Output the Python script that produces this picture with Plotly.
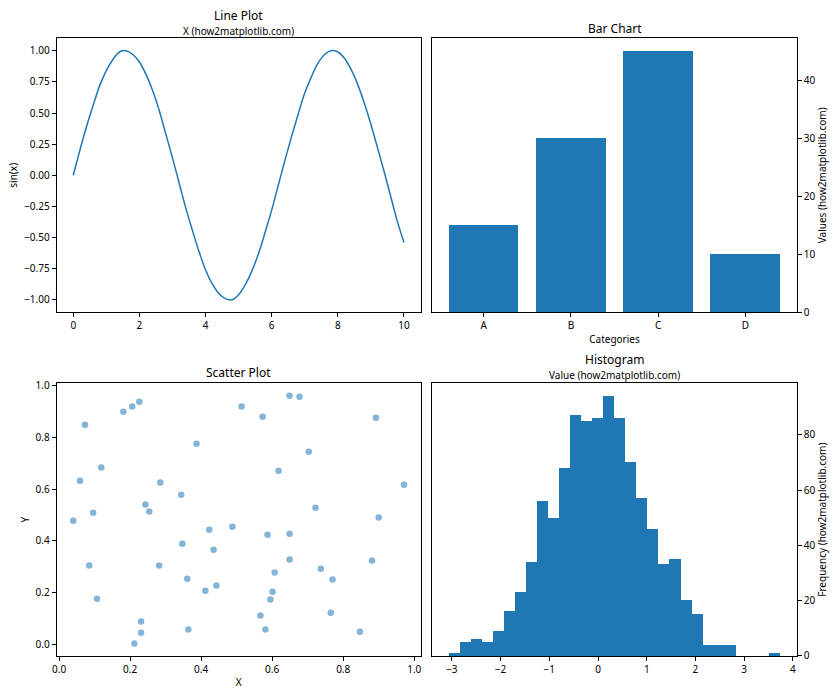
import plotly.graph_objects as go
from plotly.subplots import make_subplots

# line plot samples
line_x = [0.0, 0.2, 0.4, 0.6, 0.8, 1.0, 1.2, 1.4, 1.6, 1.8, 2.0, 2.2, 2.4, 2.6, 2.8, 3.0, 3.2,
          3.4, 3.6, 3.8, 4.0, 4.2, 4.4, 4.6, 4.8, 5.0, 5.2, 5.4, 5.6, 5.8, 6.0, 6.2, 6.4, 6.6,
          6.8, 7.0, 7.2, 7.4, 7.6, 7.8, 8.0, 8.2, 8.4, 8.6, 8.8, 9.0, 9.2, 9.4, 9.6, 9.8, 10.0]
line_y = [0.00, 0.20, 0.39, 0.56, 0.72, 0.84, 0.93, 0.99, 1.00, 0.97, 0.91, 0.81, 0.68, 0.52,
          0.33, 0.14, -0.06, -0.26, -0.44, -0.61, -0.76, -0.87, -0.95, -0.99, -1.00, -0.96,
          -0.88, -0.77, -0.63, -0.46, -0.28, -0.08, 0.12, 0.31, 0.49, 0.66, 0.79, 0.90, 0.97,
          1.00, 0.99, 0.94, 0.85, 0.73, 0.58, 0.41, 0.22, 0.03, -0.17, -0.37, -0.54]

bar_categories = ['A', 'B', 'C', 'D']
bar_values = [15, 30, 45, 10]

scatter_x = [0.040, 0.059, 0.073, 0.085, 0.096, 0.107, 0.119, 0.181, 0.206, 0.226, 0.212, 0.231,
             0.231, 0.243, 0.254, 0.282, 0.285, 0.344, 0.347, 0.361, 0.364, 0.387, 0.412, 0.423,
             0.435, 0.443, 0.488, 0.514, 0.567, 0.573, 0.581, 0.587, 0.595, 0.601, 0.607, 0.618,
             0.649, 0.649, 0.649, 0.677, 0.703, 0.722, 0.737, 0.765, 0.770, 0.847, 0.881, 0.892,
             0.900, 0.971]
scatter_y = [0.478, 0.632, 0.848, 0.305, 0.509, 0.177, 0.683, 0.898, 0.918, 0.937, 0.004, 0.089,
             0.046, 0.540, 0.513, 0.305, 0.625, 0.578, 0.389, 0.254, 0.058, 0.775, 0.208, 0.443,
             0.366, 0.228, 0.455, 0.918, 0.112, 0.879, 0.058, 0.424, 0.174, 0.204, 0.278, 0.671,
             0.960, 0.428, 0.328, 0.956, 0.744, 0.528, 0.293, 0.123, 0.251, 0.050, 0.324, 0.875,
             0.490, 0.617]

hist_start = -3.062
hist_bin_width = 0.2267
hist_counts = [1, 5, 6, 5, 9, 16, 23, 34, 56, 50, 68, 87, 85, 86, 94, 86, 70, 57, 46, 33,
               35, 20, 15, 4, 4, 4, 0, 0, 0, 1]
hist_centers = [hist_start + hist_bin_width * (i + 0.5) for i in range(len(hist_counts))]

BLUE = '#1f77b4'
FONT = 'Noto Sans'

fig = make_subplots(rows=2, cols=2)

fig.add_trace(go.Scatter(x=line_x, y=line_y, mode='lines', line_shape='spline',
                         line=dict(color=BLUE, width=1.5, smoothing=1)), row=1, col=1)
fig.add_trace(go.Bar(x=[0, 1, 2, 3], y=bar_values, width=0.8,
                     marker=dict(color=BLUE, line=dict(width=0))), row=1, col=2)
fig.add_trace(go.Scatter(x=scatter_x, y=scatter_y, mode='markers',
                         marker=dict(color=BLUE, size=6.5, opacity=0.55, line=dict(width=0))),
              row=2, col=1)
fig.add_trace(go.Bar(x=hist_centers, y=hist_counts, width=hist_bin_width,
                     marker=dict(color=BLUE, line=dict(width=0))), row=2, col=2)

axis_style = dict(showline=True, mirror=True, linecolor='black', linewidth=1,
                  ticks='outside', ticklen=4, tickcolor='black', tickwidth=1,
                  showgrid=False, zeroline=False, automargin=False,
                  tickfont=dict(family=FONT, size=10, color='black'),
                  title_font=dict(family=FONT, size=10, color='black'),
                  title_standoff=4)

x_left = [0.0675, 0.5006]
x_right = [0.5146, 0.9485]
y_top = [0.5539, 0.9453]
y_bot = [0.0629, 0.4524]

fig.update_layout(
    width=840, height=700,
    margin=dict(l=0, r=0, t=0, b=0),
    paper_bgcolor='white', plot_bgcolor='white',
    showlegend=False, bargap=0,
    font=dict(family=FONT, size=10, color='black'),
    xaxis=dict(axis_style, domain=x_left, range=[-0.5, 10.5], tickvals=[0, 2, 4, 6, 8, 10]),
    yaxis=dict(axis_style, domain=y_top, range=[-1.1, 1.1], dtick=0.25, tickformat='.2f',
               title_text='sin(x)'),
    xaxis2=dict(axis_style, domain=x_right, range=[-0.59, 3.59], tickvals=[0, 1, 2, 3],
                ticktext=bar_categories, title_text='Categories'),
    yaxis2=dict(axis_style, domain=y_top, range=[0, 47.25], dtick=10, side='right',
                title_text='Values (how2matplotlib.com)'),
    xaxis3=dict(axis_style, domain=x_left, range=[-0.0066, 1.0176], dtick=0.2, tickformat='.1f',
                title_text='X'),
    yaxis3=dict(axis_style, domain=y_bot, range=[-0.0438, 1.0078], dtick=0.2, tickformat='.1f',
                title_text='Y'),
    xaxis4=dict(axis_style, domain=x_right, range=[-3.402, 4.078], dtick=1),
    yaxis4=dict(axis_style, domain=y_bot, range=[0, 98.7], dtick=20, side='right',
                title_text='Frequency (how2matplotlib.com)'),
)

def add_text(x, y, text, size):
    fig.add_annotation(x=x, y=y, xref='paper', yref='paper', text=text, showarrow=False,
                       xanchor='center', yanchor='middle',
                       font=dict(family=FONT, size=size, color='black'))

cx_left = sum(x_left) / 2
cx_right = sum(x_right) / 2
add_text(cx_left, 1 - 15 / 700, 'Line Plot', 12)
add_text(cx_left, 1 - 31 / 700, 'X (how2matplotlib.com)', 10)
add_text(cx_right, 1 - 28 / 700, 'Bar Chart', 12)
add_text(cx_left, 1 - 372 / 700, 'Scatter Plot', 12)
add_text(cx_right, 1 - 359 / 700, 'Histogram', 12)
add_text(cx_right, 1 - 375 / 700, 'Value (how2matplotlib.com)', 10)

# drop the default page margin so the 840x700 figure fills the window
fig.write_html("out.html", config={'displayModeBar': False},
               post_script="document.body.style.margin='0';")
